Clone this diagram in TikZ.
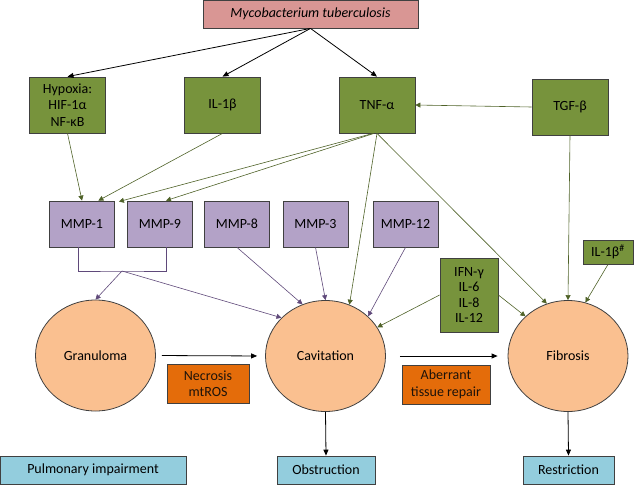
\documentclass[tikz,border=0pt]{standalone}
\usepackage{fontspec}
\setmainfont{Carlito}
\usetikzlibrary{arrows.meta,shapes.geometric}
\definecolor{mtbred}{HTML}{D99694}
\definecolor{cytgreen}{HTML}{77933C}
\definecolor{cytline}{HTML}{4F6228}
\definecolor{mmppurple}{HTML}{B3A2C7}
\definecolor{mmpline}{HTML}{5F497A}
\definecolor{lesionfill}{HTML}{FAC090}
\definecolor{procorange}{HTML}{E46C0A}
\definecolor{outblue}{HTML}{93CDDD}
\begin{document}
\begin{tikzpicture}[x=1pt,y=-1pt,font=\fontsize{14}{16.5}\selectfont,
  box/.style={draw=black!75,line width=0.8pt,align=center,inner sep=1pt},
  mtbbox/.style={box,fill=mtbred,minimum width=215pt,minimum height=28pt},
  cytbox/.style={box,fill=cytgreen,minimum width=76pt,minimum height=56pt},
  mmpbox/.style={box,fill=mmppurple,minimum width=65pt,minimum height=46pt},
  lesion/.style={ellipse,draw=black!75,line width=0.8pt,fill=lesionfill,minimum width=120pt,minimum height=111pt},
  procbox/.style={box,fill=procorange,text=black!85!brown},
  outbox/.style={box,fill=outblue,minimum height=28pt},
  blk/.style={draw=black,line width=0.8pt,-{Triangle[length=6pt,width=5pt]}},
  grn/.style={draw=cytline,line width=0.6pt,-{Triangle[length=5pt,width=5pt]}},
  prp/.style={draw=mmpline,line width=0.6pt,-{Triangle[length=5pt,width=5pt]}}]
\useasboundingbox (0,0) rectangle (640,485);
\node[mtbbox] (mtb) at (310.5,14) {\itshape Mycobacterium tuberculosis};
\node[cytbox] (hyp) at (67.5,105) {Hypoxia:\\HIF-1α\\NF-κB};
\node[cytbox] (ilb) at (222.5,105) {IL-1β};
\node[cytbox] (tnf) at (377,105) {TNF-α};
\node[cytbox] (tgf) at (570,107) {TGF-β};
\node[mmpbox] (mmp1) at (82,224) {MMP-1};
\node[mmpbox] (mmp9) at (160,224) {MMP-9};
\node[mmpbox] (mmp8) at (237,224) {MMP-8};
\node[mmpbox] (mmp3) at (315.5,224) {MMP-3};
\node[mmpbox] (mmp12) at (405.5,224) {MMP-12};
\node[box,fill=cytgreen,minimum width=50pt,minimum height=24pt] (ilbh) at (608,252) {IL-1β\textsuperscript{\#}};
\node[box,fill=cytgreen,minimum width=58pt,minimum height=74pt,font=\fontsize{14}{15.5}\selectfont] (ifn) at (469,295) {IFN-γ\\IL-6\\IL-8\\IL-12};
\node[lesion] (gran) at (95.5,355.5) {Granuloma};
\node[lesion] (cav) at (325.5,356) {Cavitation};
\node[lesion] (fib) at (568,356) {Fibrosis};
\node[procbox,minimum width=82pt,minimum height=39pt] (necro) at (208,383.5) {Necrosis\\mtROS};
\node[procbox,minimum width=88pt,minimum height=39pt] (aber) at (446,384.5) {Aberrant\\tissue repair};
\node[outbox,minimum width=186pt] (pulm) at (93,470) {Pulmonary impairment};
\node[outbox,minimum width=98pt] (obst) at (326,470) {Obstruction};
\node[outbox,minimum width=91pt] (restr) at (568.5,470) {Restriction};
\coordinate (brk) at (122,271);
\draw[blk] (mtb.south) -- (hyp.north);
\draw[blk] (mtb.south) -- (ilb.north);
\draw[blk] (mtb.south) -- (tnf.north);
\draw[grn] (tgf.west) -- (tnf.east);
\draw[grn] (hyp.south) -- (mmp1.north);
\draw[grn] (ilb.south) -- (mmp1.55);
\draw[grn] ([xshift=-4pt]tnf.south) -- ([xshift=4pt,yshift=-1pt]mmp1.north east);
\draw[grn] ([xshift=-3pt]tnf.south) -- ([xshift=6pt]mmp9.north);
\draw[grn] (tnf.south) -- (cav.65);
\draw[grn] (tnf.south) -- (fib.112);
\draw[grn] (tgf.south) -- (fib.north);
\draw[grn] (ilbh.south) -- (fib.72);
\draw[grn] (ifn.west) -- (cav.29);
\draw[grn] (ifn.east) -- (fib.137);
\draw[draw=mmpline,line width=0.6pt] ([xshift=-4pt]mmp1.south) |- (brk) -| ([xshift=6pt]mmp9.south);
\draw[prp] (brk) -- (gran.north);
\draw[prp] (brk) -- (cav.139);
\draw[prp] (mmp8.south) -- (cav.114);
\draw[prp] (mmp3.south) -- (cav.north);
\draw[prp] (mmp12.south) -- (cav.43);
\draw[blk,shorten <=6pt,shorten >=8pt] (gran.east) -- (cav.west);
\draw[blk,shorten <=14pt,shorten >=10pt] (cav.east) -- (fib.west);
\draw[blk] (cav.south) -- (obst.north);
\draw[blk] (fib.south) -- (restr.north);
\end{tikzpicture}
\end{document}
